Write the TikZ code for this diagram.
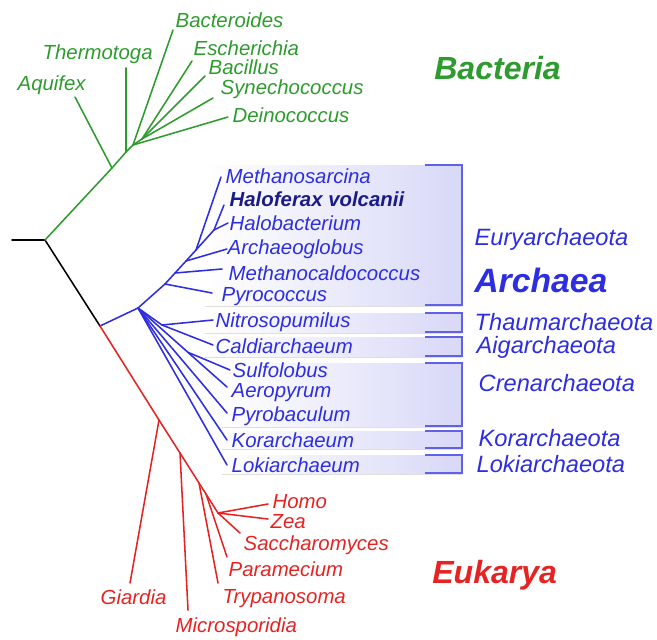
\documentclass[tikz,border=0pt]{standalone}
\usepackage{fontspec}
\setmainfont{Liberation Sans}
\usetikzlibrary{shadows, calc}

\definecolor{bactgreen}{RGB}{45,155,45}
\definecolor{archblue}{RGB}{45,45,225}
\definecolor{eukred}{RGB}{230,35,35}
\definecolor{boxlav}{RGB}{216,216,248}

\begin{document}
\begin{tikzpicture}[
    x=0.025cm, y=-0.025cm,
    branch/.style={line width=1.1pt, line cap=round},
    taxon/.style={anchor=west, inner sep=1pt, font=\fontsize{14.5}{16}\selectfont\itshape},
    phylum/.style={anchor=west, inner sep=1pt, text=archblue, font=\fontsize{16.8}{18}\selectfont\itshape},
    kingdom/.style={anchor=west, inner sep=0pt, font=\fontsize{22.8}{26}\selectfont\bfseries\itshape},
    cladebox/.style={left color=white, right color=boxlav, drop shadow={shadow xshift=0pt, shadow yshift=-1.2pt, opacity=0.25}},
    bracket/.style={draw=archblue!75, line width=0.9pt}
]
\useasboundingbox (0,0) rectangle (657,639);

% -------------------------------------------------------------------------
% Shaded clade boxes with brackets (Archaea)
% -------------------------------------------------------------------------
\path[cladebox] (205,165) rectangle (462,305);
\path[cladebox] (205,313) rectangle (462,332);
\path[cladebox] (205,337) rectangle (462,356);
\path[cladebox] (222,363) rectangle (462,426);
\path[cladebox] (222,431) rectangle (462,448);
\path[cladebox] (222,455) rectangle (462,473);

\draw[bracket] (425,165) -| (462,305) -- (425,305);
\draw[bracket] (425,313) -| (462,332) -- (425,332);
\draw[bracket] (425,337) -| (462,356) -- (425,356);
\draw[bracket] (425,363) -| (462,426) -- (425,426);
\draw[bracket] (425,431) -| (462,448) -- (425,448);
\draw[bracket] (425,455) -| (462,473) -- (425,473);

% -------------------------------------------------------------------------
% Root
% -------------------------------------------------------------------------
\coordinate (root) at (12,240);
\coordinate (lca) at (45,240);
\coordinate (split) at (100,326);
\draw[branch] (root) -- (lca) -- (split);

% -------------------------------------------------------------------------
% Bacteria
% -------------------------------------------------------------------------
\coordinate (b1) at (112,168);
\coordinate (b2) at (126,152);
\coordinate (b3) at (133,145);
\coordinate (b4) at (142,139);
\coordinate (tAqu) at (75,97);
\coordinate (tThe) at (126,68);
\coordinate (tBac) at (173,30);
\coordinate (tEsc) at (192,61);
\coordinate (tBcl) at (205,76);
\coordinate (tSyn) at (213,98);
\coordinate (tDei) at (228,117);

\draw[branch, bactgreen] (lca) -- (b1) -- (b2) -- (b3) -- (b4);
\draw[branch, bactgreen] (b1) -- (tAqu);
\draw[branch, bactgreen] (b2) -- (tThe);
\draw[branch, bactgreen] (b3) -- (tBac);
\draw[branch, bactgreen] (b3) -- (tDei);
\draw[branch, bactgreen] (b4) -- (tEsc);
\draw[branch, bactgreen] (b4) -- (tBcl);
\draw[branch, bactgreen] (b4) -- (tSyn);

\node[taxon, text=bactgreen] (Aquifex) at (16,85) {Aquifex};
\node[taxon, text=bactgreen] (Thermotoga) at (41,54) {Thermotoga};
\node[taxon, text=bactgreen] (Bacteroides) at (174,20) {Bacteroides};
\node[taxon, text=bactgreen] (Escherichia) at (192,48) {Escherichia};
\node[taxon, text=bactgreen] (Bacillus) at (207,67) {Bacillus};
\node[taxon, text=bactgreen] (Synechococcus) at (219,89) {Synechococcus};
\node[taxon, text=bactgreen] (Deinococcus) at (231,115) {Deinococcus};
\node[kingdom, text=bactgreen] (Bacteria) at (434,68) {Bacteria};

% -------------------------------------------------------------------------
% Archaea
% -------------------------------------------------------------------------
\coordinate (a1) at (138,308);
\coordinate (e1) at (165,284);
\coordinate (e2) at (175,273);
\coordinate (e3) at (186,261);
\coordinate (e4) at (196,250);
\coordinate (hal) at (214,230);
\coordinate (tMsa) at (221,177);
\coordinate (tHfx) at (224,205);
\coordinate (tHbt) at (228,223);
\coordinate (tAgl) at (227,249);
\coordinate (tMcc) at (222,269);
\coordinate (tPyc) at (212,293);

\coordinate (ta) at (162,325);
\coordinate (tNit) at (213,320);
\coordinate (tCal) at (213,345);
\coordinate (tAer) at (227,387);
\coordinate (cr) at ($(a1)!0.56!(tAer)$);
\coordinate (tSul) at (230,370);
\coordinate (tPba) at (227,413);
\coordinate (tKor) at (227,440);
\coordinate (tLok) at (227,465);

\draw[branch, archblue] (split) -- (a1) -- (e1) -- (e2) -- (e3) -- (e4) -- (tMsa);
\draw[branch, archblue] (e4) -- (hal) -- (tHfx);
\draw[branch, archblue] (hal) -- (tHbt);
\draw[branch, archblue] (e3) -- (tAgl);
\draw[branch, archblue] (e2) -- (tMcc);
\draw[branch, archblue] (e1) -- (tPyc);

\draw[branch, archblue] (a1) -- (ta) -- (tNit);
\draw[branch, archblue] (ta) -- (tCal);
\draw[branch, archblue] (a1) -- (tAer);
\draw[branch, archblue] (cr) -- (tSul);
\draw[branch, archblue] (a1) -- (tPba);
\draw[branch, archblue] (a1) -- (tKor);
\draw[branch, archblue] (a1) -- (tLok);

\node[taxon, text=archblue] (Methanosarcina) at (224,176) {Methanosarcina};
\node[taxon, text=archblue!60!black] (Haloferax) at (228,199) {\bfseries Haloferax volcanii};
\node[taxon, text=archblue] (Halobacterium) at (228,223) {Halobacterium};
\node[taxon, text=archblue] (Archaeoglobus) at (226,249) {Archaeoglobus};
\node[taxon, text=archblue] (Methanocaldococcus) at (227,273) {Methanocaldococcus};
\node[taxon, text=archblue] (Pyrococcus) at (220,297) {Pyrococcus};
\node[taxon, text=archblue] (Nitrosopumilus) at (214,322) {Nitrosopumilus};
\node[taxon, text=archblue] (Caldiarchaeum) at (214,346) {Caldiarchaeum};
\node[taxon, text=archblue] (Sulfolobus) at (231,370) {Sulfolobus};
\node[taxon, text=archblue] (Aeropyrum) at (230,393) {Aeropyrum};
\node[taxon, text=archblue] (Pyrobaculum) at (230,416) {Pyrobaculum};
\node[taxon, text=archblue] (Korarchaeum) at (230,440) {Korarchaeum};
\node[taxon, text=archblue] (Lokiarchaeum) at (230,465) {Lokiarchaeum};

\node[phylum] (Eury) at (473,239) {Euryarchaeota};
\node[kingdom, text=archblue, font=\fontsize{24}{27}\selectfont\bfseries\itshape] (Archaea) at (474,280) {Archaea};
\node[phylum] (Thaum) at (473,322) {Thaumarchaeota};
\node[phylum] (Aig) at (475,347) {Aigarchaeota};
\node[phylum] (Cren) at (477,383) {Crenarchaeota};
\node[phylum] (Kor) at (477,438) {Korarchaeota};
\node[phylum] (Loki) at (475,464) {Lokiarchaeota};

% -------------------------------------------------------------------------
% Eukarya
% -------------------------------------------------------------------------
\coordinate (r1) at (159,420);
\coordinate (r2) at (180,453);
\coordinate (r3) at (199,483);
\coordinate (r4) at (206,494);
\coordinate (r5) at (218,513);
\coordinate (tGia) at (130,583);
\coordinate (tMic) at (188,610);
\coordinate (tTry) at (218,583);
\coordinate (tPar) at (227,557);
\coordinate (tSac) at (240,533);
\coordinate (tZea) at (268,519);
\coordinate (tHom) at (268,504);

\draw[branch, eukred] (split) -- (r1) -- (r2) -- (r3) -- (r4) -- (r5) -- (tSac);
\draw[branch, eukred] (r1) -- (tGia);
\draw[branch, eukred] (r2) -- (tMic);
\draw[branch, eukred] (r3) -- (tTry);
\draw[branch, eukred] (r4) -- (tPar);
\draw[branch, eukred] (r5) -- (tZea);
\draw[branch, eukred] (r5) -- (tHom);

\node[taxon, text=eukred] (Homo) at (271,502) {Homo};
\node[taxon, text=eukred] (Zea) at (269,522) {Zea};
\node[taxon, text=eukred] (Saccharomyces) at (242,545) {Saccharomyces};
\node[taxon, text=eukred] (Paramecium) at (227,569) {Paramecium};
\node[taxon, text=eukred] (Trypanosoma) at (221,599) {Trypanosoma};
\node[taxon, text=eukred] (Microsporidia) at (174,627) {Microsporidia};
\node[taxon, text=eukred] (Giardia) at (99,597) {Giardia};
\node[kingdom, text=eukred] (Eukarya) at (432,575) {Eukarya};

\end{tikzpicture}
\end{document}
